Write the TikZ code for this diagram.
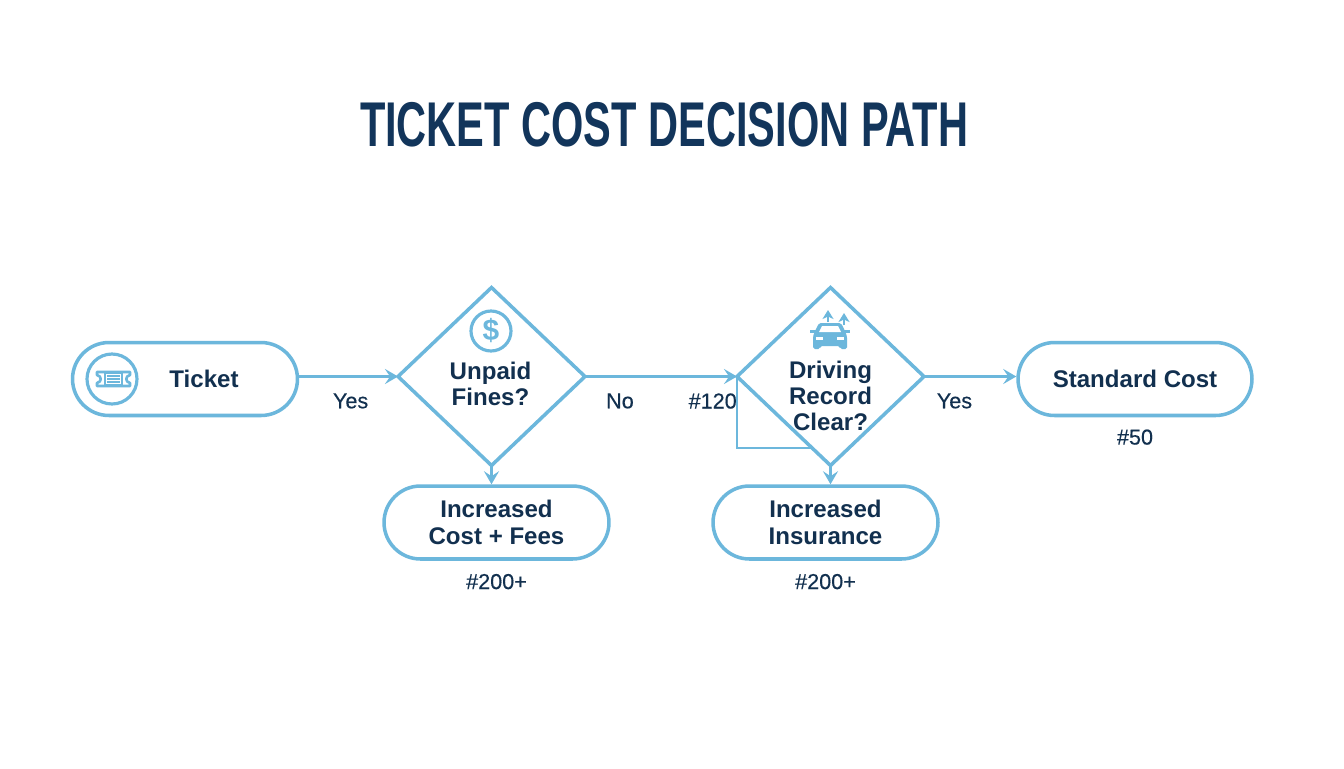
\documentclass[tikz,border=0pt]{standalone}
\usepackage{fontspec}
\setmainfont{Liberation Sans}
\newfontfamily\midfont[FakeBold=.35]{Liberation Sans}
\usetikzlibrary{positioning,arrows.meta,shapes.geometric,shapes.misc}
\definecolor{lineblue}{HTML}{6CB7DC}
\definecolor{inkblue}{HTML}{12304F}
\definecolor{titleblue}{HTML}{12355B}
\tikzset{
    pill/.style={draw=lineblue, line width=2pt, fill=white, rounded rectangle, minimum width=4.5cm, minimum height=1.46cm, inner sep=0pt},
    choice/.style={draw=lineblue, line width=2pt, fill=white, diamond, minimum width=3.74cm, minimum height=3.56cm, inner sep=0pt, outer sep=0pt},
    flow/.style={draw=lineblue, line width=1.2pt, -{Stealth[length=2.6mm,width=3mm,inset=1mm]}},
    iconline/.style={draw=lineblue, line width=1.5pt},
    boxtext/.style={text=inkblue, font=\fontsize{13.7}{15}\selectfont\bfseries, align=center},
    edgetext/.style={text=inkblue, font=\fontsize{12.3}{14}\selectfont\midfont}
}
\begin{document}
\begin{tikzpicture}[x=.02cm, y=-.02cm]
        \fill[white] (0,0) rectangle (1344,768);
        \useasboundingbox (0,0) rectangle (1344,768);
        \node (title) [text=titleblue, font=\fontsize{36}{40}\selectfont\bfseries, xscale=.657, transform shape] at (664,125) {TICKET COST DECISION PATH};
        % boxes
        \node (ticket) [pill] at (185,379) {};
        \node (standard) [pill, minimum width=4.68cm, boxtext] at (1135,379) {Standard Cost};
        \node (inccost) [pill, boxtext] at (496.5,522.5) {Increased\\Cost + Fees};
        \node (incins) [pill, boxtext] at (825.5,522.5) {Increased\\Insurance};
        \node (unpaid) [choice] at (491.5,376.5) {};
        \node (record) [choice] at (830.5,376.5) {};
        \node (tickettext) [boxtext] at (204,379) {Ticket};
        \node (unpaidtext) [boxtext] at (490.5,384) {Unpaid\\Fines?};
        \node (recordtext) [boxtext] at (830.5,396) {Driving\\Record\\Clear?};
        % costs under the boxes
        \node (cost50) [edgetext, below=1.2mm of standard] {\#50};
        \node (cost200a) [edgetext, below=1.4mm of inccost] {\#200+};
        \node (cost200b) [edgetext, below=1.4mm of incins] {\#200+};
        % connectors
        \draw[flow] (ticket.east |- unpaid.west) -- node[edgetext, pos=.52, below=2mm] {Yes} (unpaid.west);
        \draw[flow] (unpaid.east) -- node[edgetext, pos=.23, below=2mm] {No} node[edgetext, pos=.84, below=2mm] {\#120} (record.west);
        \draw[flow] (record.east) -- node[edgetext, pos=.33, below=2mm] {Yes} (record.east -| standard.west);
        \draw[flow] (unpaid.south) -- (unpaid.south |- inccost.north);
        \draw[flow] (record.south) -- (record.south |- incins.north);
        \coordinate (loopend) at (813,448);
        \draw[draw=lineblue, line width=1.3pt] (record.west) -- (record.west |- loopend) -- (loopend);
        % ticket icon
        \draw[iconline, line width=1.8pt] (112,379) circle[radius=25];
        \draw[iconline, line join=round] (97,372) -- (130,372) -- (130,375) .. controls (125,376) and (125,382) .. (130,383) -- (130,386) -- (97,386) -- (97,383) .. controls (102,382) and (102,376) .. (97,375) -- cycle;
        \draw[iconline, line width=1pt] (105,373) rectangle (122,385);
        \foreach \y in {376,379,382}{\draw[iconline, line width=.9pt] (107,\y) -- (120,\y);}
        % dollar icon
        \draw[iconline, line width=1.8pt] (491,331) circle[radius=20];
        \node (dollar) [text=lineblue, font=\fontsize{17}{18}\selectfont\bfseries] at (491,331) {\$};
        % car icon
        \fill[lineblue, rounded corners=1pt] (819,323) -- (841,323) -- (845,331) -- (847,336) -- (847,349) -- (840,349) -- (840,346) -- (820,346) -- (820,349) -- (813,349) -- (813,336) -- (815,331) -- cycle;
        \fill[white] (822,326) -- (838,326) -- (841,332) -- (819,332) -- cycle;
        \fill[lineblue] (810,330) rectangle (816,333);
        \fill[lineblue] (844,330) rectangle (850,333);
        \fill[white] (816,337) rectangle (823,340);
        \fill[white] (837,337) rectangle (844,340);
        \foreach \x/\y in {828/322,844/325}{\draw[draw=lineblue, line width=1.2pt, -{Stealth[length=1.8mm,width=2.2mm,inset=.5mm]}] (\x,\y) -- (\x,\y-12);}
\end{tikzpicture}
\end{document}
